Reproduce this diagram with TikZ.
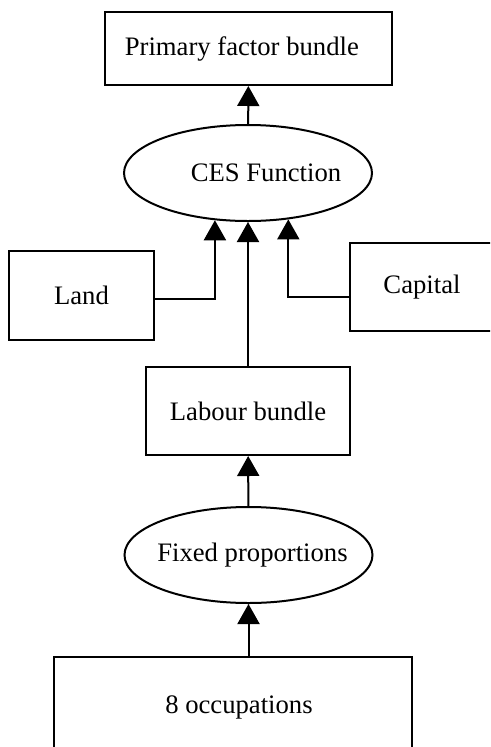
\documentclass[tikz,border=0pt]{standalone}
\usepackage{fontspec}
\setmainfont{Liberation Serif}
\usetikzlibrary{shapes.geometric,arrows.meta}

\begin{document}
\begin{tikzpicture}[
x=0.75pt,y=-0.75pt,
box/.style={
  draw,
  line width=1.5pt,
  font=\fontsize{20}{24}\selectfont,
  inner sep=0pt
},
oval/.style={
  draw,
  ellipse,
  line width=1.5pt,
  minimum width=186pt,
  minimum height=72pt,
  inner sep=0pt
},
txt/.style={
  font=\fontsize{20}{24}\selectfont
},
up/.style={
  line width=1.5pt,
  -{Triangle[width=16.5pt,length=15pt]}
}
]
\useasboundingbox (0,0) rectangle (490,747);
\clip (0,0) rectangle (490,747);

\node[box,minimum width=215.25pt,minimum height=54.75pt,
  label={[txt,xshift=-5pt]center:Primary factor bundle}]
  at (248.5,48.5) (primary) {};
\node[oval,label={[txt,xshift=13.5pt]center:CES Function}]
  at (248,173) (ces) {};
\node[box,minimum width=108.75pt,minimum height=66.75pt] at (81.5,295.5)
  (land) {Land};
\node[box,minimum width=108pt,minimum height=66pt] at (422,287)
  (capital) {Capital};
\node[box,minimum width=153pt,minimum height=66pt] at (248,411)
  (labour) {Labour bundle};
\node[oval,label={[txt,xshift=3pt]center:Fixed proportions}]
  at (248.5,555) (fixed) {};
\node[box,minimum width=268.5pt,minimum height=75pt,
  label={[txt,xshift=4.5pt]center:8 occupations}]
  at (233,707) (occ) {};

\draw[up] (ces) -- (primary);
\draw[up] ([yshift=-2.5pt]land.east) -| (ces.235);
\draw[up] ([yshift=-7.5pt]capital.west) -| (ces.311);
\draw[up] (labour) -- (ces);
\draw[up] (fixed) -- (labour);
\draw[up] (occ.north -| fixed.south) -- (fixed.south);
\end{tikzpicture}
\end{document}
